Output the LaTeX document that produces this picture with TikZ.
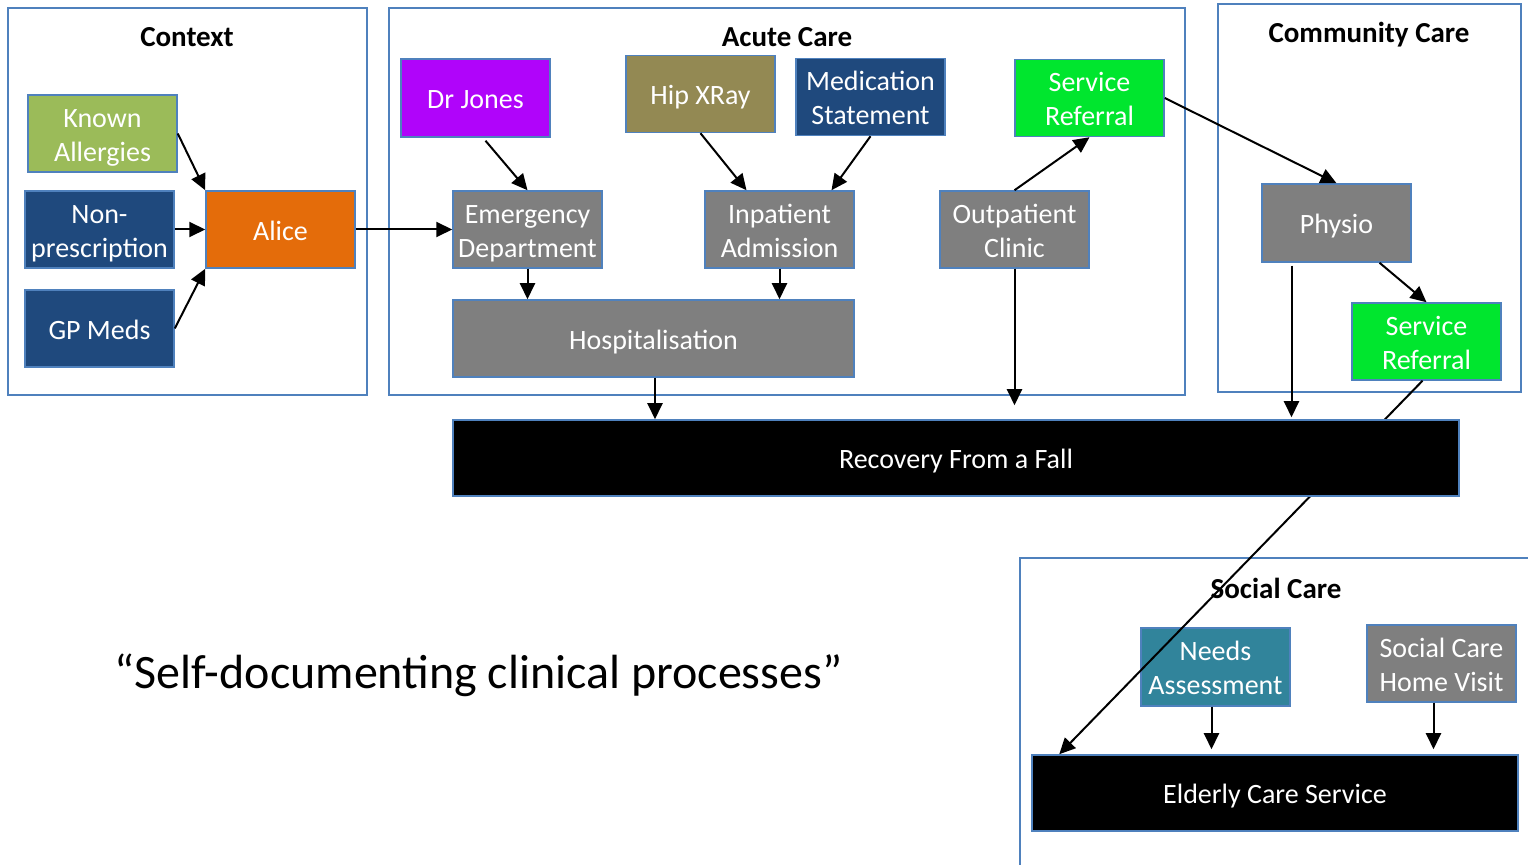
\documentclass[tikz,border=0pt]{standalone}
\usepackage{fontspec}
\setmainfont{Carlito}
\usetikzlibrary{arrows.meta,calc}
\definecolor{bordr}{HTML}{4F81BD}
\definecolor{kgreen}{HTML}{9BBB59}
\definecolor{dblue}{HTML}{1F497D}
\definecolor{orng}{HTML}{E46C0A}
\definecolor{purp}{RGB}{176,4,250}
\definecolor{olive}{HTML}{938953}
\definecolor{lgreen}{RGB}{0,230,46}
\definecolor{gry}{HTML}{7F7F7F}
\definecolor{teal2}{HTML}{31849B}
% box label: centred lines, set a little low in the box
\newcommand{\bxt}[1]{\begin{tabular}{@{}c@{}}\noalign{\vskip4pt}#1\end{tabular}}
\tikzset{
  box/.style={draw=bordr, line width=0.75pt, text=white, minimum width=74.5pt,
    minimum height=38.5pt, inner sep=0pt,
    font=\fontsize{14}{17}\selectfont},
  frame/.style={draw=bordr, line width=0.9pt},
  conn/.style={line width=1pt, -{Triangle[length=8pt,width=7.5pt]}},
  title/.style={font=\fontsize{14.5}{17}\selectfont\bfseries, inner sep=0pt},
}
\begin{document}
\begin{tikzpicture}[x=0.5pt,y=-0.5pt]
\path[use as bounding box, clip] (0,0) rectangle (1528,865);
\fill[white] (0,0) rectangle (1528,865);

% group frames
\draw[frame] (8,8) rectangle (367,395);
\draw[frame] (389,8) rectangle (1185,395);
\draw[frame] (1218,4) rectangle (1521,392);
\draw[frame] (1020,558) rectangle (1540,880);

\node[title] (tctx) at (187,37) {Context};
\node[title] (tacu) at (787,37) {Acute Care};
\node[title] (tcom) at (1369,35) {Community Care};
\node[title] (tsoc) at (1276,588) {Social Care};

% context
\node[box, fill=kgreen] (ka) at (102.5,133.5) {\bxt{Known\\Allergies}};
\node[box, fill=dblue] (np) at (99.5,229.5) {\bxt{Non-\\prescription}};
\node[box, fill=dblue] (gp) at (99.5,328.5) {\bxt{GP Meds}};
\node[box, fill=orng] (al) at (280.5,229.5) {\bxt{Alice}};

% acute care
\node[box, fill=purp, minimum height=39pt] (dj) at (475.5,98) {\bxt{Dr Jones}};
\node[box, fill=olive] (hx) at (700.5,94) {\bxt{Hip XRay}};
\node[box, fill=dblue] (ms) at (870.5,97) {\bxt{Medication\\Statement}};
\node[box, fill=lgreen] (sra) at (1089.5,98) {\bxt{Service\\Referral}};
\node[box, fill=gry] (ed) at (527.5,229.5) {\bxt{Emergency\\Department}};
\node[box, fill=gry] (ia) at (779.5,229.5) {\bxt{Inpatient\\Admission}};
\node[box, fill=gry] (oc) at (1014.5,229.5) {\bxt{Outpatient\\Clinic}};
\node[box, fill=gry, minimum width=200.5pt] (hosp) at (653.5,338.5) {\bxt{Hospitalisation}};

% community care
\node[box, fill=gry, minimum height=39pt] (ph) at (1336.5,223) {\bxt{Physio}};
\node[box, fill=lgreen] (src) at (1426.5,341.5) {\bxt{Service\\Referral}};

% social care
\node[box, fill=teal2, minimum height=39pt] (na) at (1215.5,667) {\bxt{Needs\\Assessment}};
\node[box, fill=gry] (sch) at (1441.5,663.5) {\bxt{Social Care\\Home Visit}};
\node[box, fill=black, minimum width=243pt, minimum height=38pt] (ecs) at (1275,793) {\bxt{Elderly Care Service}};

% referral runs behind the recovery bar down to elderly care
\draw[conn] ($(src.south)+(-4,0)$) -- ($(ecs.north west)+(28,0)$);

\node[box, fill=black, minimum width=503pt, minimum height=38pt] (rec) at (956,458) {\bxt{Recovery From a Fall}};

% quote
\node[font=\fontsize{24}{28}\selectfont, inner sep=0pt] (quote) at (478.5,675) {“Self-documenting clinical processes”};

% context connectors
\draw[conn] (ka.east) -- (al.north west);
\draw[conn] (np.east) -- (al.west);
\draw[conn] (gp.east) -- (al.south west);
\draw[conn] (al.east) -- (ed.west);

% acute connectors
\draw[conn] ($(dj.south)+(10,3)$) -- (ed.north);
\draw[conn] (hx.south) -- ($(ia.north)+(-33,0)$);
\draw[conn] (ms.south) -- ($(ia.north)+(52,0)$);
\draw[conn] (oc.north) -- (sra.south);
\draw[conn] (ed.south) -- (ed.south |- hosp.north);
\draw[conn] (ia.south) -- (ia.south |- hosp.north);
\draw[conn] ($(hosp.south)+(1.5,0)$) -- ($(hosp.south |- rec.north)+(1.5,0)$);
\draw[conn, shorten >=7pt] (oc.south) -- (oc.south |- rec.north);
\draw[conn] (sra.east) -- (ph.north);

% community connectors
\draw[conn, shorten >=1pt] ($(ph.south)+(-45,3)$) -- ($(ph.south |- rec.north)+(-45,0)$);
\draw[conn] ($(ph.south)+(43,0)$) -- (src.north);

% social connectors
\draw[conn, shorten >=2.5pt] ($(na.south)+(-4,0)$) -- ($(na.south |- ecs.north)+(-4,0)$);
\draw[conn, shorten >=2.5pt] ($(sch.south)+(-8,0)$) -- ($(sch.south |- ecs.north)+(-8,0)$);
\end{tikzpicture}
\end{document}
